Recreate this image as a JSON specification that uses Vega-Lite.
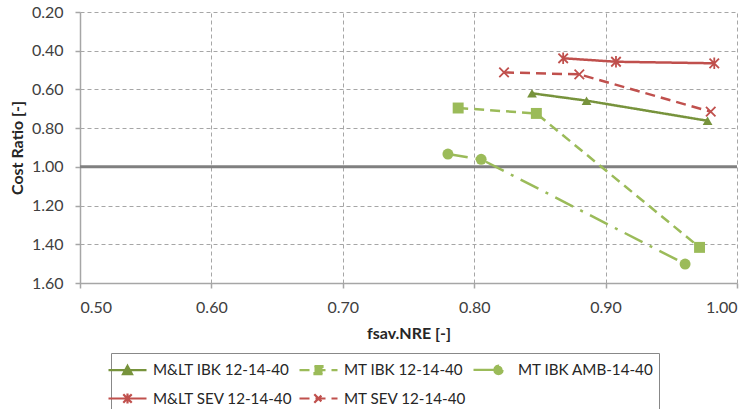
{
  "$schema": "https://vega.github.io/schema/vega-lite/v6.json",
  "width": 657,
  "height": 271,
  "autosize": {"type": "none"},
  "padding": {"left": 80, "top": 12, "right": 15, "bottom": 126},
  "background": "white",
  "config": {
    "view": {"stroke": null},
    "font": "Lato",
    "axis": {
      "labelFont": "Lato",
      "labelFontSize": 16,
      "labelColor": "#404040",
      "labelOverlap": false,
      "titleFont": "Lato",
      "titleFontSize": 16,
      "titleFontWeight": "bold",
      "titleColor": "#262626",
      "gridColor": "#A6A6A6",
      "gridDash": [4, 3],
      "gridWidth": 1,
      "domainColor": "#A6A6A6",
      "domainWidth": 1.5,
      "tickColor": "#A6A6A6",
      "tickSize": 5,
      "tickWidth": 1.5
    },
    "legend": {
      "labelFont": "Lato",
      "labelFontSize": 15.2,
      "labelColor": "#262626"
    }
  },
  "datasets": {
    "points": [
      {"series": "M&LT IBK 12-14-40", "x": 0.844, "y": 0.620},
      {"series": "M&LT IBK 12-14-40", "x": 0.8855, "y": 0.658},
      {"series": "M&LT IBK 12-14-40", "x": 0.9776, "y": 0.762},
      {"series": "MT IBK 12-14-40", "x": 0.7878, "y": 0.696},
      {"series": "MT IBK 12-14-40", "x": 0.8473, "y": 0.724},
      {"series": "MT IBK 12-14-40", "x": 0.9715, "y": 1.416},
      {"series": "MT IBK AMB-14-40", "x": 0.780, "y": 0.934},
      {"series": "MT IBK AMB-14-40", "x": 0.8053, "y": 0.961},
      {"series": "MT IBK AMB-14-40", "x": 0.9605, "y": 1.502},
      {"series": "M&LT SEV 12-14-40", "x": 0.8677, "y": 0.439},
      {"series": "M&LT SEV 12-14-40", "x": 0.9079, "y": 0.457},
      {"series": "M&LT SEV 12-14-40", "x": 0.9827, "y": 0.465},
      {"series": "MT SEV 12-14-40", "x": 0.8227, "y": 0.512},
      {"series": "MT SEV 12-14-40", "x": 0.880, "y": 0.522},
      {"series": "MT SEV 12-14-40", "x": 0.980, "y": 0.715}
    ],
    "reference": [
      {"y": 1.0}
    ]
  },
  "layer": [
    {
      "data": {"name": "reference"},
      "mark": {"type": "rule", "color": "#808080", "strokeWidth": 3},
      "encoding": {
        "y": {
          "field": "y",
          "type": "quantitative",
          "scale": {"domain": [0.2, 1.6], "nice": false, "zero": false, "reverse": true},
          "axis": {
            "orient": "left",
            "title": "Cost Ratio [-]",
            "values": [0.2, 0.4, 0.6, 0.8, 1.0, 1.2, 1.4, 1.6],
            "format": ".2f",
            "labelPadding": 12,
            "titlePadding": 6
          }
        }
      }
    },
    {
      "data": {"name": "points"},
      "encoding": {
        "x": {
          "field": "x",
          "type": "quantitative",
          "scale": {"domain": [0.5, 1.0], "nice": false, "zero": false},
          "axis": {
            "orient": "bottom",
            "title": "fsav.NRE [-]",
            "values": [0.5, 0.6, 0.7, 0.8, 0.9, 1.0],
            "format": ".2f",
            "labelPadding": 11,
            "titlePadding": 10
          }
        },
        "y": {
          "field": "y",
          "type": "quantitative",
          "scale": {"domain": [0.2, 1.6], "nice": false, "zero": false, "reverse": true},
          "axis": {
            "orient": "left",
            "title": "Cost Ratio [-]",
            "values": [0.2, 0.4, 0.6, 0.8, 1.0, 1.2, 1.4, 1.6],
            "format": ".2f",
            "labelPadding": 12,
            "titlePadding": 6
          }
        }
      },
      "layer": [
        {
          "mark": {"type": "line", "strokeWidth": 2.5},
          "encoding": {
            "color": {
              "field": "series",
              "type": "nominal",
              "scale": {
                "domain": ["M&LT IBK 12-14-40", "MT IBK 12-14-40", "MT IBK AMB-14-40", "M&LT SEV 12-14-40", "MT SEV 12-14-40"],
                "range": ["#77933C", "#9BBB59", "#9BBB59", "#C0504D", "#C0504D"]
              },
              "legend": {
                "title": null,
                "orient": "none",
                "legendX": 31,
                "legendY": 341,
                "direction": "horizontal",
                "columns": 3,
                "columnPadding": 2,
                "rowPadding": 8,
                "padding": 5,
                "strokeColor": "#888888",
                "fillColor": "white",
                "symbolSize": 400,
                "symbolStrokeWidth": 2.2,
                "labelOffset": 14,
                "labelLimit": 300,
                "encode": {
                  "symbols": {
                    "update": {
                      "shape": {"signal": "['M-1.9,0H1.9M-0.45,0.4L0,-0.42L0.45,0.4Z', 'M-1.9,0H1.9M-0.4,-0.4H0.4V0.4H-0.4Z', 'M-1.9,0H0.6M1.02,0L0.96,0.21L0.81,0.36L0.6,0.42L0.39,0.36L0.24,0.21L0.18,0L0.24,-0.21L0.39,-0.36L0.6,-0.42L0.81,-0.36L0.96,-0.21Z', 'M-1.9,0H1.9M-0.42,-0.42L0.42,0.42M-0.42,0.42L0.42,-0.42M0,-0.5V0.5', 'M-1.9,0H1.9M-0.42,-0.42L0.42,0.42M-0.42,0.42L0.42,-0.42'][indexof(['M&LT IBK 12-14-40', 'MT IBK 12-14-40', 'MT IBK AMB-14-40', 'M&LT SEV 12-14-40', 'MT SEV 12-14-40'], datum.value)]"},
                      "fill": {"scale": "color", "field": "value"},
                      "stroke": {"scale": "color", "field": "value"}
                    }
                  }
                }
              }
            },
            "strokeDash": {
              "field": "series",
              "type": "nominal",
              "scale": {
                "domain": ["M&LT IBK 12-14-40", "MT IBK 12-14-40", "MT IBK AMB-14-40", "M&LT SEV 12-14-40", "MT SEV 12-14-40"],
                "range": [[1, 0], [10, 6], [20, 8, 3, 8], [1, 0], [10, 6]]
              },
              "legend": null
            }
          }
        },
        {
          "transform": [{"filter": "datum.series === 'M&LT IBK 12-14-40'"}],
          "mark": {"type": "point", "shape": "triangle-up", "size": 95, "filled": true, "opacity": 1, "color": "#77933C"}
        },
        {
          "transform": [{"filter": "datum.series === 'MT IBK 12-14-40'"}],
          "mark": {"type": "point", "shape": "square", "size": 120, "filled": true, "opacity": 1, "color": "#9BBB59"}
        },
        {
          "transform": [{"filter": "datum.series === 'MT IBK AMB-14-40'"}],
          "mark": {"type": "point", "shape": "circle", "size": 120, "filled": true, "opacity": 1, "color": "#9BBB59"}
        },
        {
          "transform": [{"filter": "datum.series === 'M&LT SEV 12-14-40'"}],
          "mark": {"type": "point", "shape": "M-1,-1L1,1M-1,1L1,-1M0,-1.2V1.2", "size": 90, "filled": false, "strokeWidth": 1.8, "opacity": 1, "color": "#C0504D"}
        },
        {
          "transform": [{"filter": "datum.series === 'MT SEV 12-14-40'"}],
          "mark": {"type": "point", "shape": "M-1,-1L1,1M-1,1L1,-1", "size": 90, "filled": false, "strokeWidth": 1.8, "opacity": 1, "color": "#C0504D"}
        }
      ]
    }
  ]
}
